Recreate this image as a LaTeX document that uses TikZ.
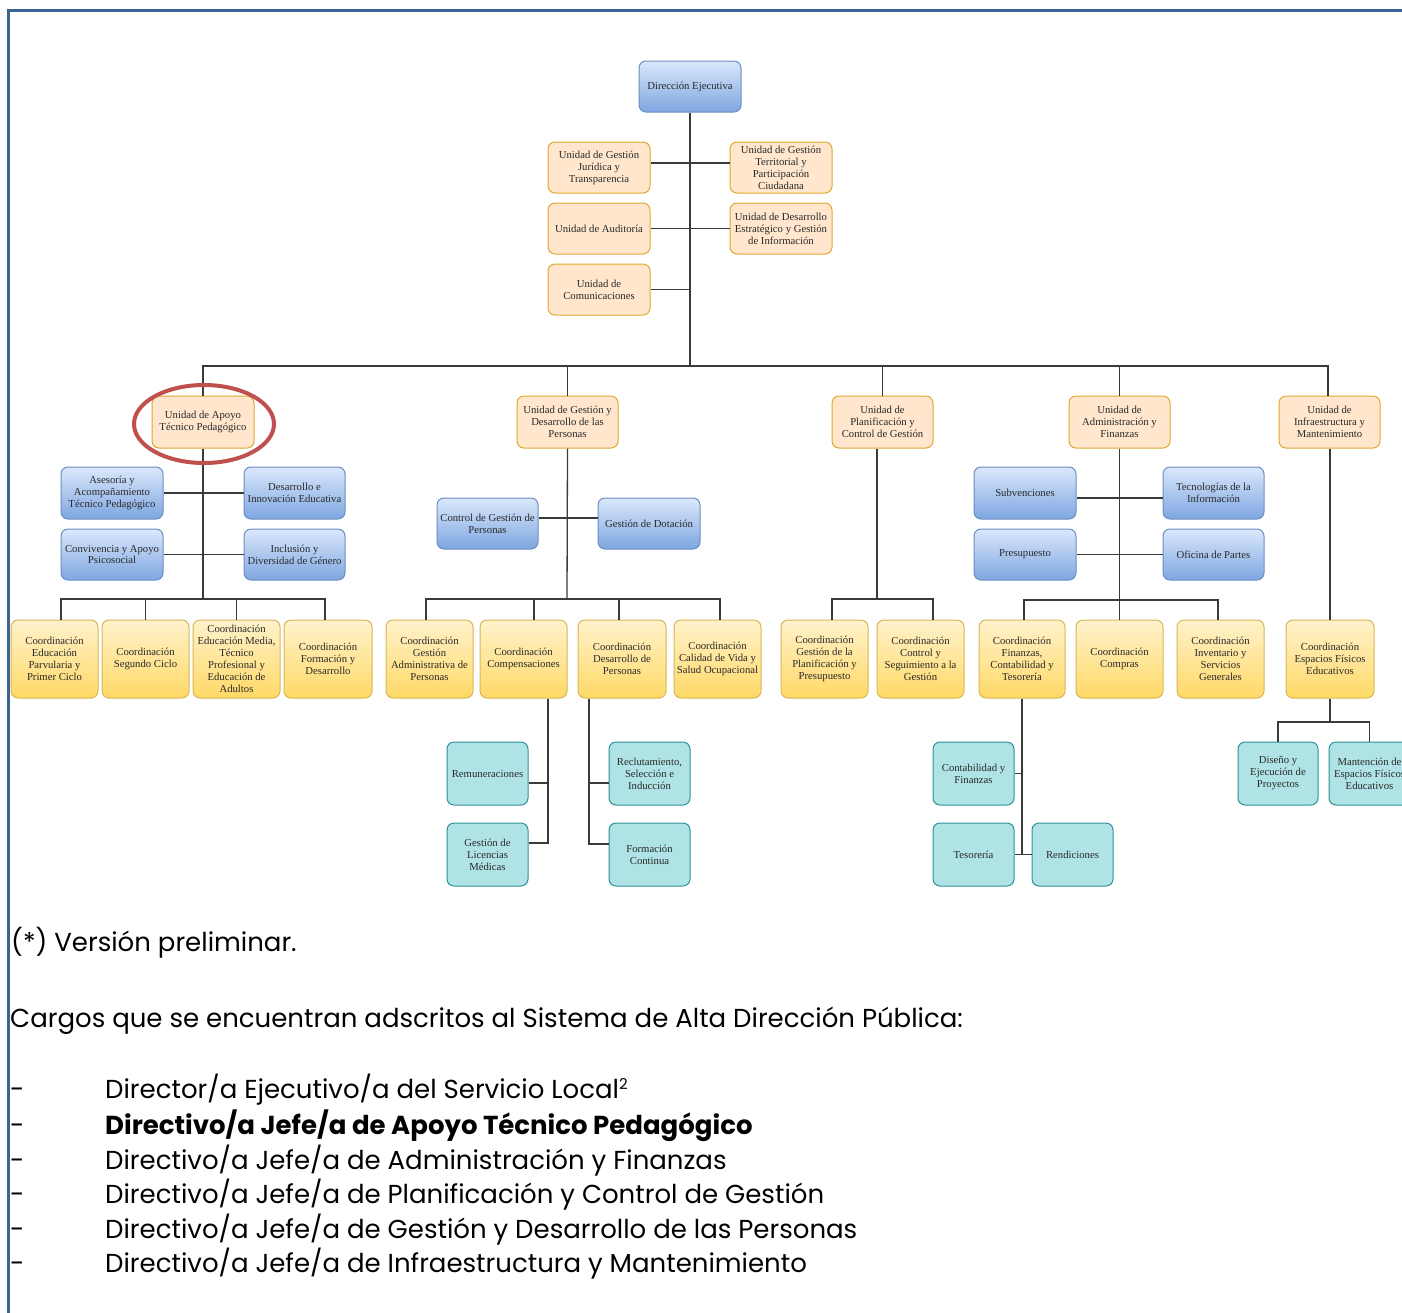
\documentclass[tikz,border=0pt]{standalone}
\usepackage{fontspec}
\setmainfont{Liberation Serif}
\newfontfamily\gothic{Poppins}
\usetikzlibrary{calc,shapes.geometric}
\definecolor{bordercol}{HTML}{3A6593}
\definecolor{linecol}{HTML}{3A3A3A}
\definecolor{txt}{HTML}{2A2A2A}
\definecolor{bluetop}{HTML}{DAE8FC}
\definecolor{bluebot}{HTML}{7EA6E0}
\definecolor{blueline}{HTML}{6C8EBF}
\definecolor{peachfill}{HTML}{FFE6CC}
\definecolor{peachline}{HTML}{E0A82E}
\definecolor{yeltop}{HTML}{FFF2CC}
\definecolor{yelbot}{HTML}{FFD966}
\definecolor{yelline}{HTML}{D6B656}
\definecolor{tealfill}{HTML}{B0E3E6}
\definecolor{tealline}{HTML}{2D9199}
\definecolor{redring}{HTML}{C0504D}
\tikzset{
  basebox/.style={rounded corners=7pt, line width=1pt, inner sep=0pt, align=center,
    text=txt, font=\fontsize{10.7}{12}\selectfont},
  bluebox/.style={basebox, draw=blueline, top color=bluetop, bottom color=bluebot},
  peachbox/.style={basebox, draw=peachline, fill=peachfill},
  yelbox/.style={basebox, draw=yelline, top color=yeltop, bottom color=yelbot},
  tealbox/.style={basebox, draw=tealline, fill=tealfill},
  conn/.style={draw=linecol, line width=1.3pt},
  bodytext/.style={anchor=base west, inner sep=0pt, font=\gothic\fontsize{26}{30}\selectfont},
}
\newcommand\ubx[7]{\node[#1,minimum width={#4-#2},minimum height={#5-#3}] (#6) at ({(#2+#4)/2},{(#3+#5)/2}) {#7};}
\begin{document}
\begin{tikzpicture}[x=1pt,y=-1pt]
\useasboundingbox (0,0) rectangle (1402,1312);
% page border
\draw[bordercol, line width=3pt] (1410,10.5) -- (8.5,10.5) -- (8.5,1320);

% top level
\ubx{bluebox}{639}{61}{741}{112}{dir}{Dirección Ejecutiva}
\ubx{peachbox}{548}{142}{650}{193}{jur}{Unidad de Gestión\\Jurídica y\\Transparencia}
\ubx{peachbox}{730}{142}{832}{193}{ter}{Unidad de Gestión\\Territorial y\\Participación\\Ciudadana}
\ubx{peachbox}{548}{203}{650}{254}{aud}{Unidad de Auditoría}
\ubx{peachbox}{730}{203}{832}{254}{des}{Unidad de Desarrollo\\Estratégico y Gestión\\de Información}
\ubx{peachbox}{548}{264}{650}{315}{com}{Unidad de\\Comunicaciones}

% units
\ubx{peachbox}{152}{396}{254}{448}{atp}{Unidad de Apoyo\\Técnico Pedagógico}
\ubx{peachbox}{517}{396}{618}{448}{gdp}{Unidad de Gestión y\\Desarrollo de las\\Personas}
\ubx{peachbox}{832}{396}{933}{448}{pcg}{Unidad de\\Planificación y\\Control de Gestión}
\ubx{peachbox}{1069}{396}{1170}{448}{adm}{Unidad de\\Administración y\\Finanzas}
\ubx{peachbox}{1279}{396}{1380}{448}{inf}{Unidad de\\Infraestructura y\\Mantenimiento}

% ATP branch
\ubx{bluebox}{61}{467}{163}{519}{ase}{Asesoría y\\Acompañamiento\\Técnico Pedagógico}
\ubx{bluebox}{244}{467}{345}{519}{din}{Desarrollo e\\Innovación Educativa}
\ubx{bluebox}{61}{529}{163}{580}{conv}{Convivencia y Apoyo\\Psicosocial}
\ubx{bluebox}{244}{529}{345}{580}{inc}{Inclusión y\\Diversidad de Género}
\ubx{yelbox}{11}{620}{98}{698}{c1}{Coordinación\\Educación\\Parvularia y\\Primer Ciclo}
\ubx{yelbox}{102}{620}{189}{698}{c2}{Coordinación\\Segundo Ciclo}
\ubx{yelbox}{193}{620}{280}{698}{c3}{Coordinación\\Educación Media,\\Técnico\\Profesional y\\Educación de\\Adultos}
\ubx{yelbox}{284}{620}{372}{698}{c4}{Coordinación\\Formación y\\Desarrollo}

% GDP branch
\ubx{bluebox}{437}{498}{538}{549}{cgp}{Control de Gestión de\\Personas}
\ubx{bluebox}{598}{498}{700}{549}{gdo}{Gestión de Dotación}
\ubx{yelbox}{386}{620}{473}{698}{d1}{Coordinación\\Gestión\\Administrativa de\\Personas}
\ubx{yelbox}{480}{620}{567}{698}{d2}{Coordinación\\Compensaciones}
\ubx{yelbox}{578}{620}{666}{698}{d3}{Coordinación\\Desarrollo de\\Personas}
\ubx{yelbox}{674}{620}{761}{698}{d4}{Coordinación\\Calidad de Vida y\\Salud Ocupacional}
\ubx{tealbox}{447}{742}{528}{805}{rem}{Remuneraciones}
\ubx{tealbox}{447}{823}{528}{886}{lic}{Gestión de\\Licencias\\Médicas}
\ubx{tealbox}{609}{742}{690}{805}{rec}{Reclutamiento,\\Selección e\\Inducción}
\ubx{tealbox}{609}{823}{690}{886}{for}{Formación\\Continua}

% PCG branch
\ubx{yelbox}{781}{620}{868}{698}{e1}{Coordinación\\Gestión de la\\Planificación y\\Presupuesto}
\ubx{yelbox}{877}{620}{964}{698}{e2}{Coordinación\\Control y\\Seguimiento a la\\Gestión}

% ADM branch
\ubx{bluebox}{974}{467}{1076}{519}{sub}{Subvenciones}
\ubx{bluebox}{1163}{467}{1264}{519}{tec}{Tecnologías de la\\Información}
\ubx{bluebox}{974}{529}{1076}{580}{pre}{Presupuesto}
\ubx{bluebox}{1163}{529}{1264}{580}{ofi}{Oficina de Partes}
\ubx{yelbox}{979}{620}{1065}{698}{f1}{Coordinación\\Finanzas,\\Contabilidad y\\Tesorería}
\ubx{yelbox}{1076}{620}{1163}{698}{f2}{Coordinación\\Compras}
\ubx{yelbox}{1177}{620}{1264}{698}{f3}{Coordinación\\Inventario y\\Servicios\\Generales}
\ubx{tealbox}{933}{742}{1014}{805}{cyf}{Contabilidad y\\Finanzas}
\ubx{tealbox}{933}{823}{1014}{886}{tes}{Tesorería}
\ubx{tealbox}{1032}{823}{1113}{886}{ren}{Rendiciones}

% INF branch
\ubx{yelbox}{1286}{620}{1374}{698}{g1}{Coordinación\\Espacios Físicos\\Educativos}
\ubx{tealbox}{1238}{742}{1318}{805}{h1}{Diseño y\\Ejecución de\\Proyectos}
\ubx{tealbox}{1329}{742}{1410}{805}{h2}{Mantención de\\Espacios Físicos\\Educativos}

% bus coordinates
\coordinate (bus) at (690,366);
\coordinate (busA) at (203,599);
\coordinate (busB) at (567,599);
\coordinate (busC) at (877,599);
\coordinate (busD) at (1119,600);
\coordinate (busE) at (1330,722);

% connectors: top
\draw[conn] (dir.south) -- (dir.south |- bus);
\draw[conn] ([yshift=4.5pt]jur.east) -- ([yshift=4.5pt]ter.west);
\draw[conn] (aud.east) -- (des.west);
\draw[conn] (com.east) -- (com.east -| dir.south);
\draw[conn] (atp.north) |- (bus) -| ([xshift=-1.5pt]inf.north);
\draw[conn] (gdp.north) -- (gdp.north |- bus);
\draw[conn] (pcg.north) -- (pcg.north |- bus);
\draw[conn] (adm.north) -- (adm.north |- bus);

% ATP
\draw[conn] (atp.south) -- (busA);
\draw[conn] (ase.east) -- (din.west);
\draw[conn] (conv.east) -- (inc.west);
\draw[conn] ([xshift=6.5pt]c1.north) |- (busA) -| ([xshift=-3pt]c4.north);
\draw[conn] (c2.north) -- (c2.north |- busA);
\draw[conn] (c3.north) -- (c3.north |- busA);

% GDP
\draw[conn] (gdp.south) -- (busB);
\draw[conn] ([yshift=5.5pt]cgp.east) -- ([yshift=5.5pt]gdo.west);
\draw[conn] ([xshift=-3.5pt]d1.north) |- (busB) -| ([xshift=2.5pt]d4.north);
\draw[conn] ([xshift=10.5pt]d2.north) -- ([xshift=10.5pt]d2.north |- busB);
\draw[conn] ([xshift=-3pt]d3.north) -- ([xshift=-3pt]d3.north |- busB);
\draw[conn] ([yshift=-9.5pt]rem.east) -| ([xshift=24.5pt]d2.south);
\draw[conn] ([yshift=11.5pt]lic.east) -| ([xshift=24.5pt]d2.south);
\draw[conn] ([yshift=-9.5pt]rec.west) -| ([xshift=-33pt]d3.south);
\draw[conn] ([yshift=10.5pt]for.west) -| ([xshift=-33pt]d3.south);

% PCG
\draw[conn] ([xshift=-5.5pt]pcg.south) -- (busC);
\draw[conn] ([xshift=7.5pt]e1.north) |- (busC) -| ([xshift=12.5pt]e2.north);

% ADM
\draw[conn] (adm.south) -- (f2.north);
\draw[conn] ([yshift=-5pt]sub.east) -- ([yshift=-5pt]tec.west);
\draw[conn] (pre.east) -- (ofi.west);
\draw[conn] ([xshift=2pt]f1.north) |- (busD) -| ([xshift=-2.5pt]f3.north);
\draw[conn] (f1.south) -- (f1.south |- tes.east);
\draw[conn] (cyf.east) -- (cyf.east -| f1.south);
\draw[conn] (tes.east) -- (ren.west);

% INF
\draw[conn] (inf.south -| g1.north) -- (g1.north);
\draw[conn] (g1.south) -- (g1.south |- busE);
\draw[conn] (h1.north) |- (busE) -| (h2.north);

% highlight ring
\node[draw=redring, line width=4pt, ellipse, minimum width=140pt, minimum height=78pt, inner sep=0pt] (ring) at (204,424) {};

% body text
\node[bodytext] (t1) at (11,951) {(*) Versión preliminar.};
\node[bodytext] (t2) at (10,1027) {Cargos que se encuentran adscritos al Sistema de Alta Dirección Pública:};
\node[bodytext] (k1) at (10,1098) {-};
\node[bodytext] (l1) at (105,1098) {Director/a Ejecutivo/a del Servicio Local{\fontsize{15}{15}\selectfont\raisebox{9pt}{2}}};
\node[bodytext] (k2) at (10,1134) {-};
\node[bodytext] (l2) at (105,1134) {\bfseries Directivo/a Jefe/a de Apoyo Técnico Pedagógico};
\node[bodytext] (k3) at (10,1169) {-};
\node[bodytext] (l3) at (105,1169) {Directivo/a Jefe/a de Administración y Finanzas};
\node[bodytext] (k4) at (10,1203) {-};
\node[bodytext] (l4) at (105,1203) {Directivo/a Jefe/a de Planificación y Control de Gestión};
\node[bodytext] (k5) at (10,1238) {-};
\node[bodytext] (l5) at (105,1238) {Directivo/a Jefe/a de Gestión y Desarrollo de las Personas};
\node[bodytext] (k6) at (10,1272) {-};
\node[bodytext] (l6) at (105,1272) {Directivo/a Jefe/a de Infraestructura y Mantenimiento};
\end{tikzpicture}
\end{document}
